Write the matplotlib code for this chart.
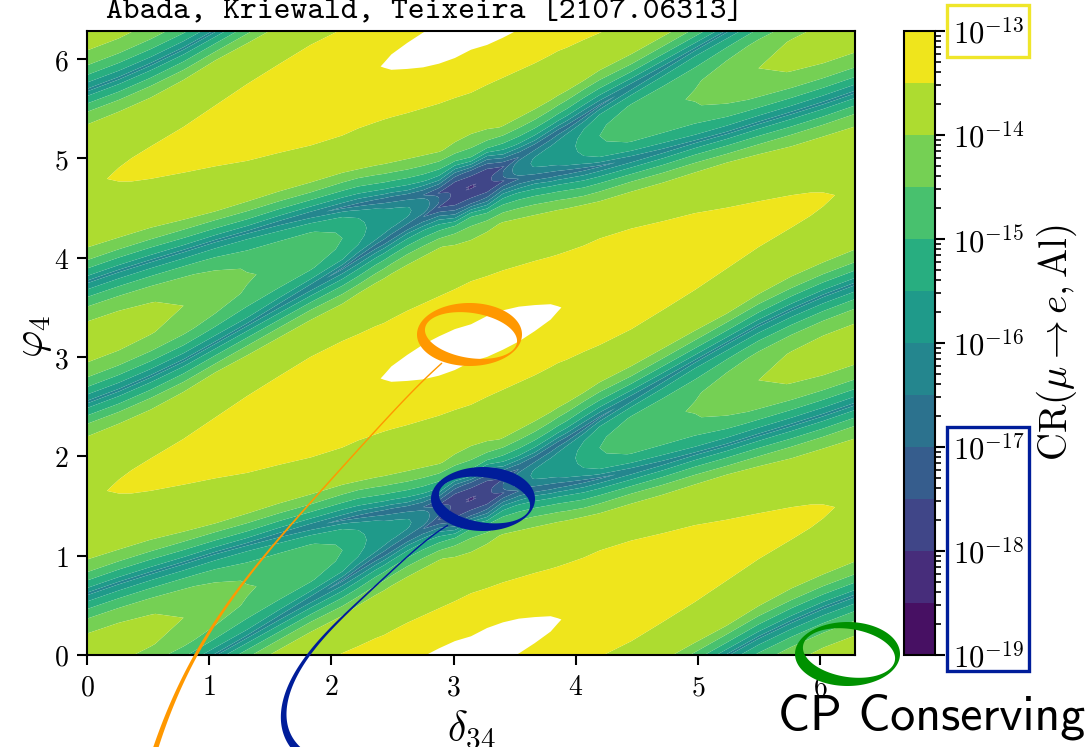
import numpy as np
import matplotlib
matplotlib.use("Agg")
import matplotlib.pyplot as plt
from matplotlib.patches import PathPatch, Rectangle
from matplotlib.path import Path

plt.rcParams['mathtext.fontset'] = 'cm'

W, H = 1085, 747

# columns, delta_34 from 0 to pi (right half mirrors the left one)
delta_half = [0.0, 0.26, 0.52, 0.79, 1.05, 1.31, 1.57, 1.83, 2.09, 2.22, 2.36, 2.43, 2.49, 2.62, 2.75, 2.88, 3.01, 3.1416]
# the two dark valleys, phi_4 at each column (they repeat every pi)
valley_b = [-0.60, -0.48, -0.34, -0.18, 0.00, 0.18, 0.37, 0.56, 0.75, 0.86, 0.97, 1.02, 1.07, 1.17, 1.27, 1.37, 1.47, 1.5708]
valley_a = [0.62, 0.73, 0.83, 0.93, 1.03, 1.12, 1.21, 1.29, 1.36, 1.39, 1.42, 1.432, 1.445, 1.47, 1.49, 1.51, 1.54, 1.5708]

# where across the gap between valleys the values were read
inner_frac = [0.0, 0.03, 0.08, 0.15, 0.25, 0.37, 0.5]
outer_frac = [0.0, 0.02, 0.05, 0.09, 0.14, 0.20, 0.28, 0.38, 0.44, 0.5]

# log10 CR in the narrow gap, one line per delta column
inner_logcr = [
    [-16.1, -15.9, -15.35, -14.85, -14.25, -13.88, -13.75],
    [-16.1, -15.9, -15.35, -14.87, -14.27, -13.89, -13.76],
    [-16.1, -15.9, -15.35, -14.9, -14.33, -13.98, -13.85],
    [-16.1, -15.9, -15.4, -14.95, -14.45, -14.12, -14.0],
    [-16.1, -15.9, -15.45, -15.05, -14.6, -14.3, -14.2],
    [-16.1, -15.95, -15.5, -15.2, -14.8, -14.55, -14.45],
    [-16.2, -16.0, -15.6, -15.25, -14.9, -14.7, -14.62],
    [-16.4, -16.1, -15.7, -15.3, -14.97, -14.85, -14.8],
    [-16.6, -16.3, -15.85, -15.5, -15.2, -15.04, -15.0],
    [-16.7, -16.45, -16.1, -15.75, -15.5, -15.4, -15.36],
    [-16.8, -16.6, -16.3, -16.0, -15.8, -15.68, -15.65],
    [-16.85, -16.65, -16.38, -16.1, -15.9, -15.78, -15.75],
    [-16.9, -16.7, -16.45, -16.2, -15.98, -15.87, -15.85],
    [-16.95, -16.8, -16.55, -16.3, -16.07, -15.97, -15.94],
    [-17.0, -16.9, -16.7, -16.5, -16.3, -16.2, -16.17],
    [-17.55, -17.45, -17.3, -17.15, -17.05, -17.0, -17.0],
    [-17.9, -17.85, -17.8, -17.75, -17.7, -17.7, -17.7],
    [-18.05, -18.05, -18.05, -18.05, -18.05, -18.05, -18.05],
]
# log10 CR in the wide gap (yellow lobes and white spots)
outer_logcr = [
    [-16.1, -15.62, -15.2, -14.75, -14.17, -13.9, -13.72, -13.62, -13.57, -13.55],
    [-16.1, -15.62, -15.2, -14.75, -14.15, -13.87, -13.7, -13.58, -13.52, -13.47],
    [-16.1, -15.62, -15.2, -14.72, -14.13, -13.85, -13.68, -13.55, -13.47, -13.42],
    [-16.1, -15.62, -15.15, -14.68, -14.05, -13.83, -13.66, -13.51, -13.42, -13.37],
    [-16.1, -15.62, -15.12, -14.6, -14.0, -13.8, -13.62, -13.46, -13.37, -13.32],
    [-16.1, -15.62, -15.1, -14.55, -13.98, -13.78, -13.58, -13.4, -13.31, -13.26],
    [-16.2, -15.7, -15.15, -14.55, -13.97, -13.76, -13.55, -13.36, -13.26, -13.21],
    [-16.4, -15.8, -15.2, -14.55, -13.95, -13.74, -13.52, -13.32, -13.22, -13.16],
    [-16.6, -16.0, -15.3, -14.65, -14.0, -13.78, -13.52, -13.28, -13.16, -13.1],
    [-16.7, -16.1, -15.35, -14.7, -13.97, -13.78, -13.54, -13.28, -13.14, -13.07],
    [-16.8, -16.1, -15.3, -14.65, -13.95, -13.78, -13.55, -13.27, -13.12, -13.03],
    [-16.85, -16.12, -15.3, -14.63, -13.94, -13.77, -13.56, -13.26, -13.11, -12.98],
    [-16.9, -16.15, -15.3, -14.62, -13.93, -13.77, -13.56, -13.25, -13.08, -12.93],
    [-16.95, -16.1, -15.3, -14.6, -13.93, -13.75, -13.56, -13.22, -13.03, -12.9],
    [-17.0, -16.4, -15.4, -14.65, -13.95, -13.75, -13.57, -13.2, -13.0, -12.88],
    [-17.55, -16.9, -15.7, -14.75, -13.97, -13.75, -13.58, -13.18, -12.98, -12.87],
    [-17.9, -17.7, -16.8, -15.1, -14.1, -13.75, -13.6, -13.15, -12.98, -12.87],
    [-18.05, -17.85, -17.15, -15.1, -14.25, -13.75, -13.6, -13.15, -13.0, -12.86],
]

cbar_exponents = [-19, -18, -17, -16, -15, -14, -13]
xtick_values = [0, 1, 2, 3, 4, 5, 6]
ytick_values = [0, 1, 2, 3, 4, 5, 6]


def px_axes(fig, left, top, right, bottom):
    return fig.add_axes([left / W, 1 - bottom / H, (right - left) / W, (bottom - top) / H])


def mirror_rows(table):
    # table is (column, frac); gaps are symmetric, so fill the far side of the gap too
    table = np.array(table).T
    table = np.vstack([table, table[-2::-1]])
    return np.hstack([table, table[:, -2::-1]])


def build_grid():
    d = np.array(delta_half)
    a = np.array(valley_a)
    b = np.array(valley_b)
    delta = np.r_[d, 2 * np.pi - d[-2::-1]]
    low = np.r_[b, np.pi - a[-2::-1]]
    high = np.r_[a, np.pi - b[-2::-1]]

    fi = np.array(inner_frac)
    fo = np.array(outer_frac)
    fi = np.r_[fi, 1 - fi[-2::-1]]
    fo = np.r_[fo, 1 - fo[-2::-1]]
    zi = mirror_rows(inner_logcr)
    zo = mirror_rows(outer_logcr)

    phi_rows, z_rows = [], []
    for k in range(-1, 3):
        for i in range(len(fi) - 1):
            phi_rows.append(low + k * np.pi + fi[i] * (high - low))
            z_rows.append(zi[i])
        for i in range(len(fo) - 1):
            phi_rows.append(high + k * np.pi + fo[i] * (low + np.pi - high))
            z_rows.append(zo[i])
    phi = np.array(phi_rows)
    return np.tile(delta, (phi.shape[0], 1)), phi, np.array(z_rows)


def ring(ax, color, outer, inner, tilt=9):
    # ring with uneven thickness: outer ellipse minus a slightly turned inner one
    t = np.linspace(0, 2 * np.pi, 200)
    ox = outer[0] + outer[2] * np.cos(t)
    oy = outer[1] + outer[3] * np.sin(t)
    c, s = np.cos(np.radians(tilt)), np.sin(np.radians(tilt))
    ex, ey = inner[2] * np.cos(t[::-1]), inner[3] * np.sin(t[::-1])
    ix = inner[0] + c * ex - s * ey
    iy = inner[1] + s * ex + c * ey
    verts = np.r_[np.c_[ox, oy], np.c_[ix, iy]]
    codes = np.full(len(verts), Path.LINETO)
    codes[0] = Path.MOVETO
    codes[len(t)] = Path.MOVETO
    ax.add_patch(PathPatch(Path(verts, codes), fc=color, ec='none'))


def tapered(ax, color, pts, w0, w1):
    # hand drawn style pointer line, thin at the ring and thick at the end
    pts = np.array(pts, dtype=float)
    s = np.r_[0, np.cumsum(np.hypot(*np.diff(pts, axis=0).T))]
    s = s / s[-1]
    t = np.linspace(0, 1, 200)
    x = np.polyval(np.polyfit(s, pts[:, 0], 5), t)
    y = np.polyval(np.polyfit(s, pts[:, 1], 5), t)
    nx, ny = -np.gradient(y), np.gradient(x)
    n = np.hypot(nx, ny)
    w = w0 + (w1 - w0) * t ** 3
    left = np.c_[x + nx / n * w, y + ny / n * w]
    right = np.c_[x - nx / n * w, y - ny / n * w]
    ax.fill(np.r_[left[:, 0], right[::-1, 0]], np.r_[left[:, 1], right[::-1, 1]], color=color, lw=0)


fig = plt.figure(figsize=(W / 100, H / 100), dpi=100)
ax = px_axes(fig, 87, 31, 855, 655)
cax = px_axes(fig, 904, 31, 935, 655)

X, Y, Z = build_grid()
levels = np.arange(-19, -12.9, 0.5)
viridis = plt.get_cmap('viridis')
band_colors = [viridis((i + 0.5) / 12) for i in range(11)] + [viridis(0.975)]
cs = ax.contourf(X, Y, Z, levels=levels, colors=band_colors, antialiased=True)
ax.set_xlim(0, 2 * np.pi)
ax.set_ylim(0, 2 * np.pi)
ax.set_xticks(xtick_values)
ax.set_yticks(ytick_values)
ax.set_xticklabels([f'${v}$' for v in xtick_values])
ax.set_yticklabels([f'${v}$' for v in ytick_values])
ax.tick_params(length=7, width=1.5, labelsize=20, pad=6)
for s in ax.spines.values():
    s.set_linewidth(1.5)

ax.set_xlabel(r'$\delta_{34}$', fontsize=30)
ax.xaxis.set_label_coords(471 / W, 1 - 730 / H, transform=fig.transFigure)
ax.xaxis.label.set_va('center')
ax.set_ylabel(r'$\varphi_4$', fontsize=30)
ax.yaxis.set_label_coords(33 / W, 1 - 337 / H, transform=fig.transFigure)
ax.yaxis.label.set_va('center')

cb = fig.colorbar(cs, cax=cax)
cb.outline.set_linewidth(1.5)
cax.set_yticks(cbar_exponents)
cax.set_yticklabels([f'$10^{{{e}}}$' for e in cbar_exponents])
minors = [e + np.log10(m) for e in cbar_exponents[:-1] for m in range(2, 10)]
cax.set_yticks(minors, minor=True)
cax.tick_params(which='major', length=7, width=1.5, labelsize=22, pad=6)
cax.tick_params(which='minor', length=4, width=1.2)
cax.set_ylim(-19, -13)

# overlay in pixel coordinates for the hand added marks
over = fig.add_axes([0, 0, 1, 1], facecolor='none')
over.set_xlim(0, W)
over.set_ylim(H, 0)
over.axis('off')

orange = '#ff9800'
blue = '#001d9a'
green = '#009100'
yellow = '#efe62a'

tapered(over, orange, [(442, 363), (367, 440), (320, 492), (247, 578), (197, 653), (155, 750)], 0.7, 2.6)
tapered(over, blue, [(448, 525), (430, 538), (390, 572), (350, 610), (328, 632), (310, 653), (296, 675),
                     (286, 697), (283, 715), (288, 735), (300, 752)], 0.7, 4.0)
ring(over, orange, (469.5, 334.5, 52.5, 31.5), (471, 335.5, 46.5, 22.5))
ring(over, blue, (483, 499, 52, 32), (484.5, 500, 46, 22.5))
ring(over, green, (847.5, 654, 52.5, 32), (849, 653, 46.5, 24))

over.add_patch(Rectangle((947, 5), 82, 52, fc='none', ec=yellow, lw=2.4))
over.add_patch(Rectangle((947, 427), 82, 244, fc='none', ec=blue, lw=2.4))

over.text(106, 18, 'Abada, Kriewald, Teixeira [2107.06313]', family='cmtt10', fontsize=23,
          ha='left', va='baseline')
over.text(778, 730, 'CP Conserving', family='cmss10', fontsize=36, ha='left', va='baseline')
over.text(1057, 343, r'$\mathrm{CR}(\mu\to e,\mathrm{Al})$', fontsize=28, rotation=90,
          ha='center', va='center')

fig.savefig('out.png', dpi=100)
